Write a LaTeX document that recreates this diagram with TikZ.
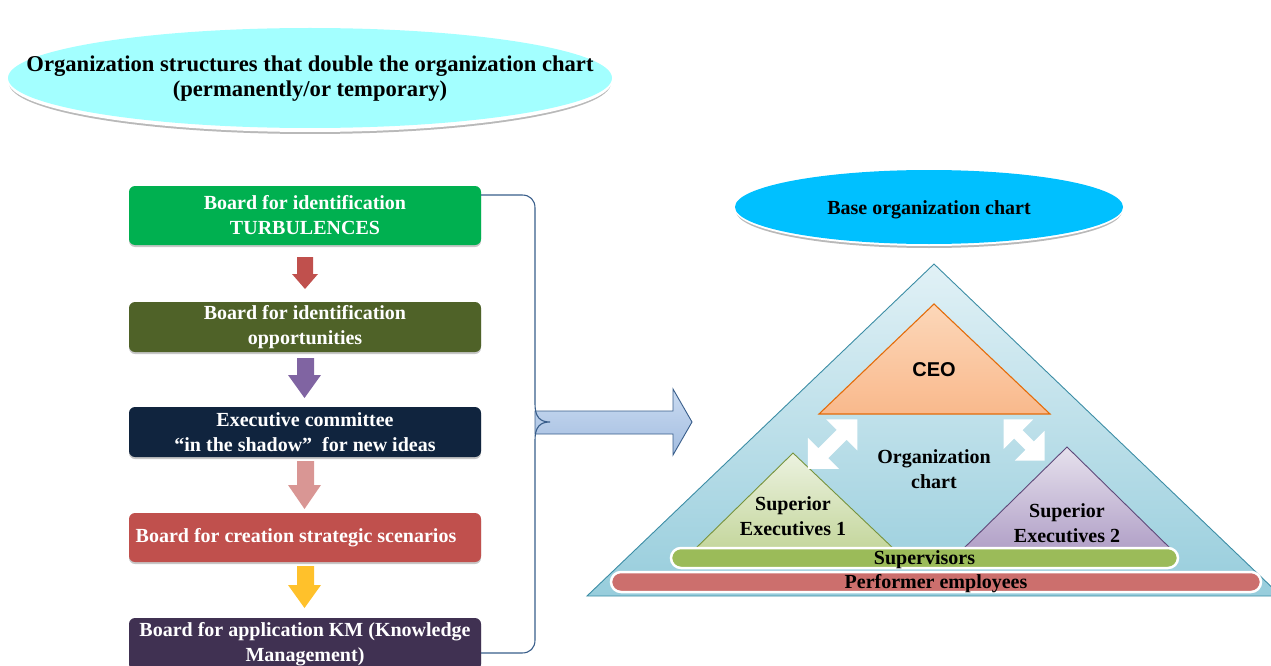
\documentclass[tikz,border=0pt]{standalone}
\usepackage{fontspec}
\setmainfont{Liberation Serif}
\newfontfamily\arialbold{Liberation Sans Bold}
\usetikzlibrary{calc}

% palette
\definecolor{titlecyan}{HTML}{A3FFFF}
\definecolor{basecyan}{HTML}{00C0FF}
\definecolor{bgreen}{HTML}{00B050}
\definecolor{bolive}{HTML}{4F6228}
\definecolor{bnavy}{HTML}{10243E}
\definecolor{bred}{HTML}{C0504D}
\definecolor{bplum}{HTML}{403152}
\definecolor{apurple}{HTML}{8064A2}
\definecolor{apink}{HTML}{D99694}
\definecolor{ayellow}{HTML}{FFC12B}
\definecolor{bracecol}{HTML}{385D8A}
\definecolor{pyrtop}{HTML}{E1F1F6}
\definecolor{pyrbot}{HTML}{97CDDC}
\definecolor{pyredge}{HTML}{3C8DA5}
\definecolor{ceotop}{HTML}{FCD7B9}
\definecolor{ceobot}{HTML}{F9B98C}
\definecolor{ceoedge}{HTML}{E46C0A}
\definecolor{setop}{HTML}{ECF2E0}
\definecolor{sebot}{HTML}{C4D69C}
\definecolor{seedge}{HTML}{77933C}
\definecolor{lvtop}{HTML}{E6E1ED}
\definecolor{lvbot}{HTML}{B1A0C7}
\definecolor{lvedge}{HTML}{5F497A}
\definecolor{supgreen}{HTML}{9BBB59}
\definecolor{perfred}{HTML}{CC6F6D}
\definecolor{arrtop}{HTML}{CADBF1}
\definecolor{arrbot}{HTML}{A3BDE0}

\begin{document}
\begin{tikzpicture}[x=1pt,y=-1pt,
  board/.style={fill=#1, rounded corners=6pt, minimum width=352pt,
    inner sep=0pt, text=white, align=center,
    preaction={fill=black!22, transform canvas={yshift=-2pt}},
    font=\bfseries\fontsize{20}{25}\selectfont},
  label/.style={inner sep=0pt, align=center, font=\bfseries\fontsize{20}{25}\selectfont},
  downarrow/.style={fill=#1},
  band/.style={fill=#1, draw=white, line width=2.5pt, rounded corners=10pt,
    inner sep=0pt, minimum height=20pt, text height=16.5pt, text depth=3.5pt,
    font=\bfseries\fontsize{20}{20}\selectfont},
  whitearrow/.style={fill=white}
]
\useasboundingbox (0,0) rectangle (1271,666);

% ---- heading ellipse ----
\fill[gray!55] (310,83) ellipse [x radius=301, y radius=51];
\fill[white] (310,81) ellipse [x radius=302, y radius=51];
\fill[titlecyan] (310,78) ellipse [x radius=302, y radius=50];
\node[label, font=\bfseries\fontsize{22.6}{25}\selectfont] (title) at (310,79)
  {Organization structures that double the organization chart\\(permanently/or temporary)};

% ---- chain of boards ----
\node[board=bgreen, minimum height=59pt] (b1) at (305,215.5)
  {Board for identification\\TURBULENCES};
\node[board=bolive, minimum height=50pt] (b2) at (305,327)
  {Board for identification\\opportunities};
\node[board=bnavy, minimum height=50pt] (b3) at (305,432)
  {Executive committee\\``in the shadow''\enspace for new ideas};
\node[board=bred, minimum height=49pt] (b4) at (305,537.5) {};
\node[label, text=white] (b4t) at (296,537.5) {Board for creation strategic scenarios};
\node[board=bplum, minimum height=52pt] (b5) at (305,644)
  {Board for application KM (Knowledge\\Management)};

% block arrows between boards
\fill[downarrow=bred]
  (297,257) -- (313,257) -- (313,274) -- (318,274) -- (305,289) -- (292,274) -- (297,274) -- cycle;
\fill[downarrow=apurple]
  (297,358) -- (314,358) -- (314,375) -- (321,375) -- (304.5,398) -- (288,375) -- (297,375) -- cycle;
\fill[downarrow=apink]
  (297,461) -- (314,461) -- (314,485) -- (321,485) -- (304.5,509) -- (288,485) -- (297,485) -- cycle;
\fill[downarrow=ayellow]
  (297,566) -- (314,566) -- (314,585) -- (321,585) -- (304.5,608) -- (288,585) -- (297,585) -- cycle;

% ---- big arrow toward the base chart ----
\coordinate (tip) at (692,422);
\shade[top color=arrtop, bottom color=arrbot, draw=bracecol, line width=0.9pt]
  (535,411) -- (673,411) -- (673,389) -- (tip) -- (673,455) -- (673,434) -- (535,434) -- cycle;

% ---- brace gathering the boards ----
\draw[bracecol, line width=1.1pt]
  ([yshift=20.5pt]b1.east) -- (522,195) .. controls (530,195) and (535,200) .. (535,208)
  -- (535,404) .. controls (535,417) and (540,422) .. (550,422)
  .. controls (540,422) and (535,427) .. (535,440)
  -- (535,640) .. controls (535,648) and (530,653) .. (522,653) -- ([yshift=-9pt]b5.east);

% ---- base chart heading ----
\fill[gray!55] (929,211) ellipse [x radius=193, y radius=37];
\fill[white] (929,209) ellipse [x radius=194, y radius=37];
\fill[basecyan] (929,207) ellipse [x radius=194, y radius=37];
\node[label] (base) at (929,209.5) {Base organization chart};

% ---- pyramid ----
\shade[top color=pyrtop, bottom color=pyrbot, draw=pyredge, line width=0.9pt]
  (934,264) -- (1281,596) -- (587,596) -- cycle;
\shade[top color=ceotop, bottom color=ceobot, draw=ceoedge, line width=1.1pt]
  (934,304) -- (1050,414) -- (819,414) -- cycle;
\shade[top color=setop, bottom color=sebot, draw=seedge, line width=0.9pt]
  (793,453) -- (895,550) -- (694,550) -- cycle;
\shade[top color=lvtop, bottom color=lvbot, draw=lvedge, line width=0.9pt]
  (1067,447) -- (1172,550) -- (962,550) -- cycle;

\node[inner sep=0pt, font=\arialbold\fontsize{20}{20}\selectfont] (ceo) at (934,370) {CEO};
\node[label] (orgchart) at (934,469) {Organization\\chart};
\node[label] (se1) at (793,516.5) {Superior\\Executives 1};
\node[label] (se2) at (1067,523.5) {Superior\\Executives 2};

% white two-way links between the levels
\begin{scope}[shift={(832.5,444)}, rotate=45]
  \fill[whitearrow] (35,0) -- (13,22) -- (13,7) -- (-13,7) -- (-13,22) -- (-35,0)
    -- (-13,-22) -- (-13,-7) -- (13,-7) -- (13,-22) -- cycle;
\end{scope}
\begin{scope}[shift={(1024,440)}, rotate=-45]
  \fill[whitearrow] (29,0) -- (8,21) -- (8,6) -- (-8,6) -- (-8,21) -- (-29,0)
    -- (-8,-21) -- (-8,-6) -- (8,-6) -- (8,-21) -- cycle;
\end{scope}

% bands at the bottom of the pyramid
\node[band=supgreen, minimum width=507pt] (sup) at (924.5,558) {Supervisors};
\node[band=perfred, minimum width=650pt] (perf) at (936,582) {Performer employees};
\end{tikzpicture}
\end{document}
